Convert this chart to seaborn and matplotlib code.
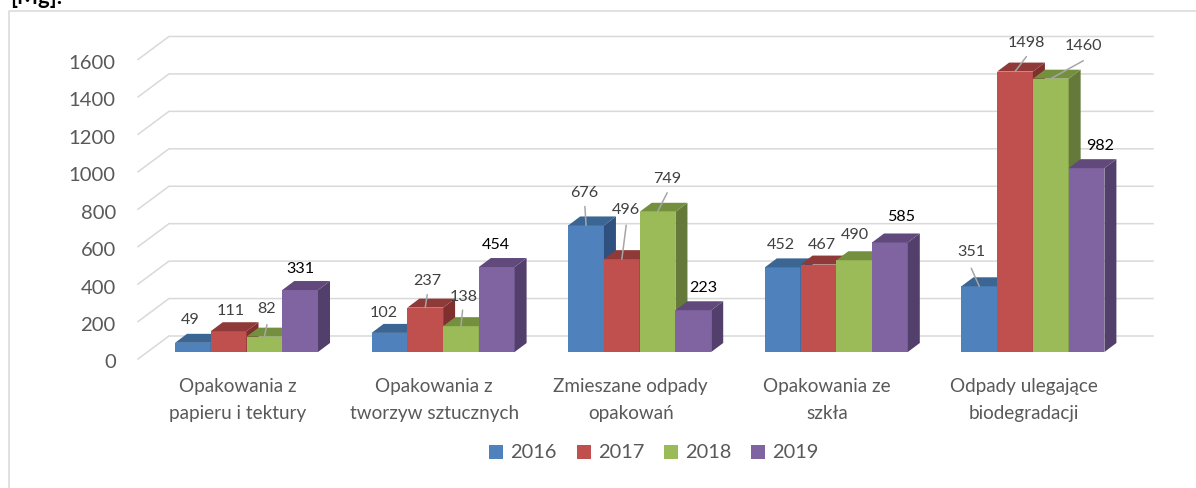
import pandas as pd
import numpy as np
import matplotlib
matplotlib.use('Agg')
import matplotlib.pyplot as plt
import matplotlib.transforms as mtrans
from matplotlib.lines import Line2D
from matplotlib.patches import Polygon
import seaborn as sns

categories = ['Opakowania z\npapieru i tektury', 'Opakowania z\ntworzyw sztucznych',
              'Zmieszane odpady\nopakowań', 'Opakowania ze\nszkła',
              'Odpady ulegające\nbiodegradacji']
years = ['2016', '2017', '2018', '2019']
v2016 = [49, 102, 676, 452, 351]
v2017 = [111, 237, 496, 467, 1498]
v2018 = [82, 138, 749, 490, 1460]
v2019 = [331, 454, 223, 585, 982]
yticks = [0, 200, 400, 600, 800, 1000, 1200, 1400, 1600]

colors = ['#4f81bd', '#c0504d', '#9bbb59', '#8064a2']
top_colors = ['#3b6592', '#8f3a38', '#74903f', '#61497c']
side_colors = ['#30517f', '#7f2f2d', '#64793a', '#533f6c']

# label offsets from the top centre of each bar, in pixels (per year, per category)
label_off = [[(-3, 23), (-6, 20), (-1.4, 32.5), (-2, 22), (-8, 34)],
             [(2.5, 20), (2, 27), (4, 49), (3.4, 20), (11.4, 28.6)],
             [(2.6, 28), (2.6, 29), (9.6, 33), (0.6, 25), (32.6, 33)],
             [(0, 21.5), (-1, 22), (10, 22), (11, 25.5), (13.4, 22)]]
black_labels = [(3, 0), (3, 1), (3, 2), (3, 3), (3, 4)]
# far end of the leader lines, same units
leaders = {(2, 0): (2.6, 12), (1, 1): (2, 13), (2, 1): (1.6, 16), (0, 2): (-1.2, 19),
           (1, 2): (4.4, 34), (2, 2): (9.6, 19), (0, 4): (-8, 18), (1, 4): (11.4, 15),
           (2, 4): (32.6, 18)}

df = pd.DataFrame({'kat': categories * 4,
                   'rok': np.repeat(years, 5),
                   'val': v2016 + v2017 + v2018 + v2019})

plt.rcParams['font.family'] = ['Lato', 'DejaVu Sans']

W, H = 1196, 488
fig = plt.figure(figsize=(W / 100, H / 100), dpi=100)

# plot area in pixels
left, right, base, top = 138, 1153, 352, 10
group_step = 196.6
first_center = 246.5
px_unit = 0.1872

ax = fig.add_axes([left / W, 1 - base / H, (right - left) / W, (base - top) / H])
sns.barplot(data=df, x='kat', y='val', hue='rok', palette=colors, saturation=1,
            width=143 / group_step, linewidth=0, ax=ax)
ax.set_xlim((left - first_center) / group_step, (right - first_center) / group_step)
ax.set_ylim(0, (base - top) / px_unit)

dx_unit = 1 / group_step
dy_unit = 1 / px_unit

# back wall and side wall gridlines
for v in yticks:
    back = v + 16 * dy_unit
    front = v - 7 * dy_unit
    x_back = (169 - first_center) * dx_unit
    ax.plot([ax.get_xlim()[0], x_back, ax.get_xlim()[1]], [front, back, back],
            color='#d9d9d9', lw=1.1, clip_on=False, zorder=1, solid_joinstyle='miter')

# 3d faces on every bar, built from the bar itself
depth_x, depth_y = 12 * dx_unit, 9 * dy_unit
for h, cont in enumerate(ax.containers):
    for i, bar in enumerate(cont):
        x0, w, t = bar.get_x(), bar.get_width(), bar.get_height()
        bar.set_zorder(3 + h)
        ax.add_patch(Polygon([(x0 + w, 0), (x0 + w + depth_x, depth_y),
                              (x0 + w + depth_x, t + depth_y), (x0 + w, t)],
                             fc=side_colors[h], ec='none', zorder=3 + h, clip_on=False))
        ax.add_patch(Polygon([(x0, t), (x0 + depth_x, t + depth_y),
                              (x0 + w + depth_x, t + depth_y), (x0 + w, t)],
                             fc=top_colors[h], ec='none', zorder=3 + h, clip_on=False))
        cx = x0 + w / 2
        lab_dx, lab_dy = label_off[h][i]
        c = 'black' if (h, i) in black_labels else '#404040'
        ax.annotate(str(int(t)), xy=(cx, t), xytext=(lab_dx, lab_dy), textcoords='offset pixels',
                    ha='center', va='center', fontsize=11.6, color=c, zorder=12)
        if (h, i) in leaders:
            ax.annotate('', xy=(cx, t), xytext=leaders[(h, i)], textcoords='offset pixels',
                        arrowprops=dict(arrowstyle='-', color='#a6a6a6', lw=1.1,
                                        shrinkA=0, shrinkB=0), zorder=11)

sns.despine(ax=ax, left=True, bottom=True)
ax.set_xlabel('')
ax.set_ylabel('')
ax.set_yticks(yticks)
ax.tick_params(axis='y', length=0, pad=16, labelsize=14.6, labelcolor='#595959')
ax.tick_params(axis='x', length=0, pad=19, labelsize=13.6, labelcolor='#595959')
for lab in ax.get_yticklabels():
    lab.set_transform(lab.get_transform() + mtrans.ScaledTranslation(0, -9.5 / 100, fig.dpi_scale_trans))
for lab in ax.get_xticklabels():
    lab.set_transform(lab.get_transform() + mtrans.ScaledTranslation(-9 / 100, 0, fig.dpi_scale_trans))
    lab.set_linespacing(1.72)

handles, labels = ax.get_legend_handles_labels()
ax.legend(handles, labels, ncol=4, frameon=False, loc='center',
          bbox_to_anchor=(654 / W, 1 - 453 / H), bbox_transform=fig.transFigure,
          fontsize=14.4, labelcolor='#595959', handlelength=0.7, handleheight=0.7,
          handletextpad=0.35, columnspacing=1.0, borderpad=0)

# frame of the pasted chart and the cut off caption above it
fig.add_artist(Line2D([8.5 / W, 8.5 / W, 1], [0, 1 - 10.5 / H, 1 - 10.5 / H],
                      color='#d9d9d9', lw=1.1))
fig.text(10 / W, 1 - 4 / H, '[Mg].', fontsize=16, fontweight='bold', color='black', va='baseline')

fig.savefig('out.png', dpi=100)
